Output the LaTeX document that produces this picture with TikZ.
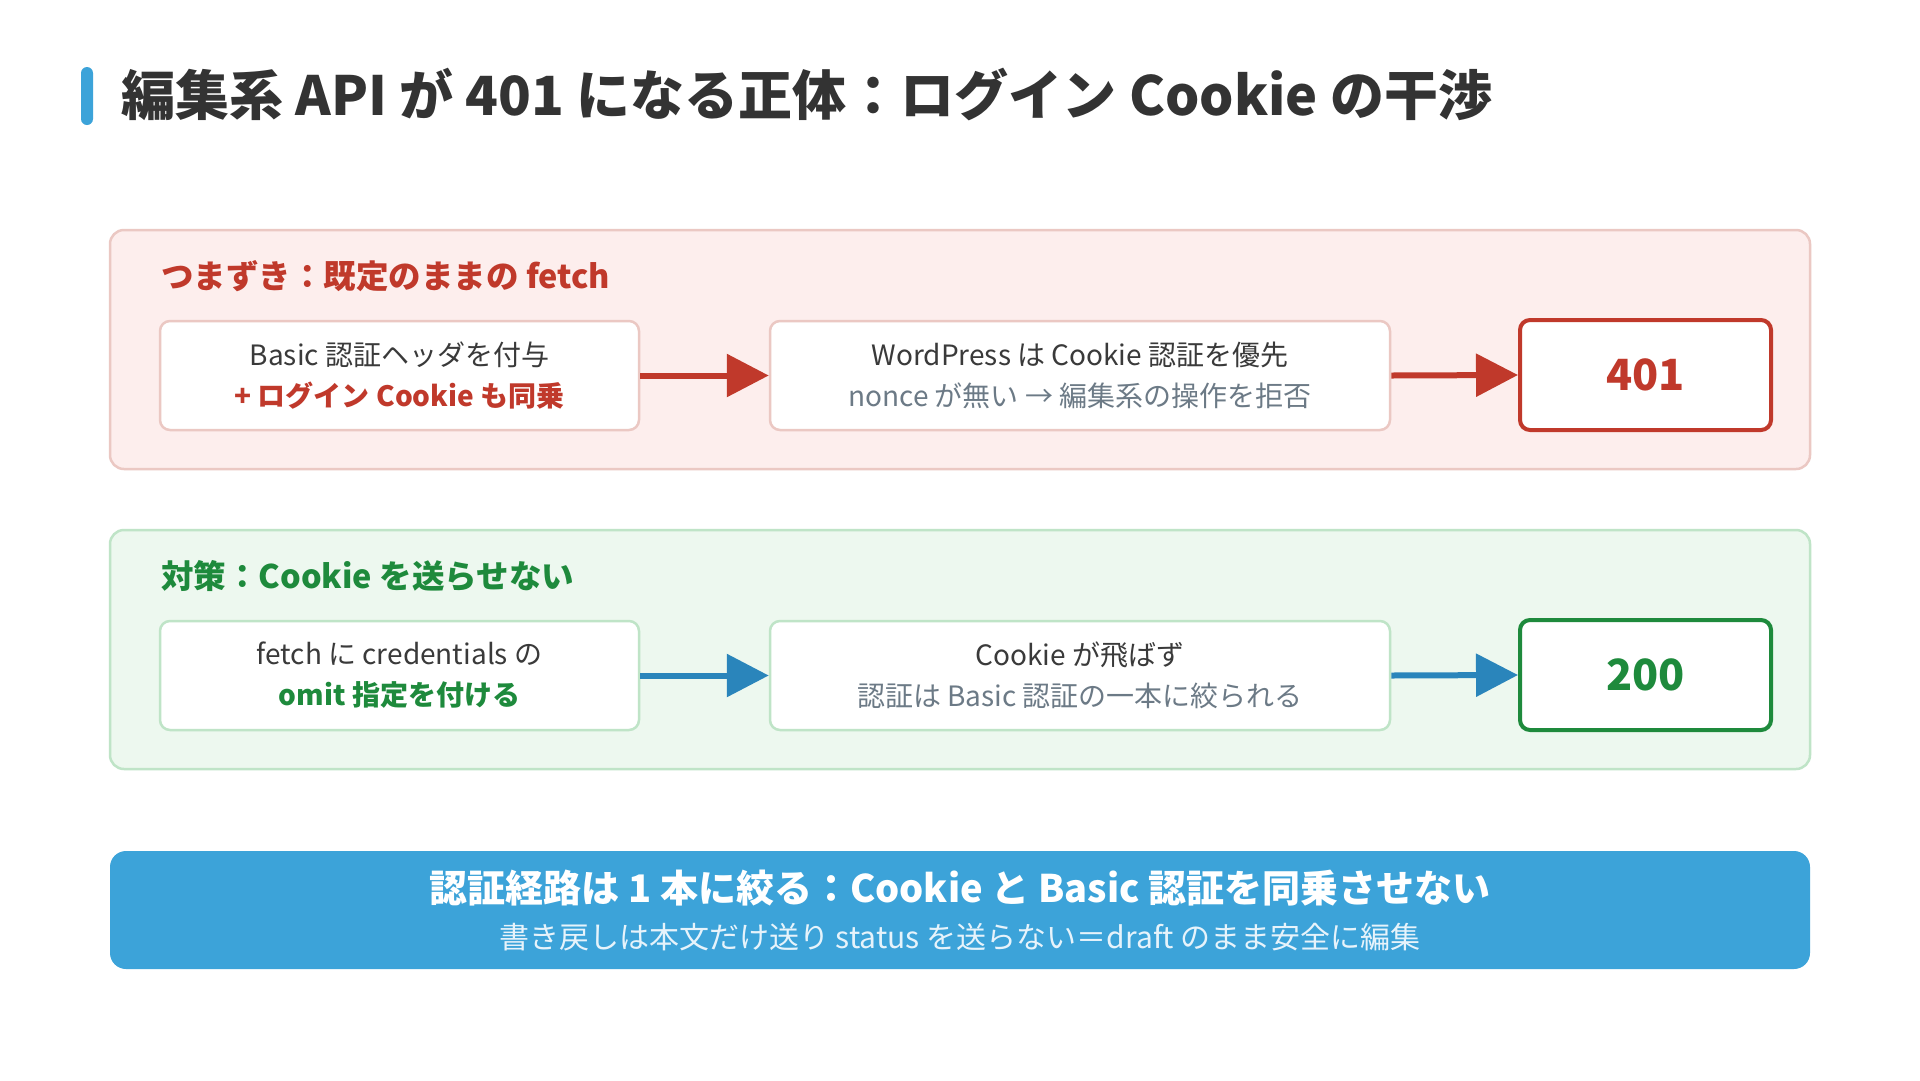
\documentclass[tikz,border=0pt]{standalone}
\usepackage{fontspec}
\setmainfont{Noto Sans CJK JP}
\usetikzlibrary{arrows.meta}
\definecolor{titlec}{HTML}{333333}
\definecolor{barc}{HTML}{3CA3D9}
\definecolor{redc}{HTML}{C0392B}
\definecolor{redbg}{HTML}{FDEEED}
\definecolor{redbd}{HTML}{EBC8C3}
\definecolor{greenc}{HTML}{1E8A3C}
\definecolor{greenbg}{HTML}{EDF8EF}
\definecolor{greenbd}{HTML}{BFE4C7}
\definecolor{bluearr}{HTML}{2A85BB}
\definecolor{bodyc}{HTML}{3A3A3A}
\definecolor{subc}{HTML}{6C7A86}
\definecolor{bansub}{HTML}{E6F3FB}
\tikzset{
  panel/.style={line width=2.5, rounded corners=14, minimum width=1700, minimum height=239, inner sep=0},
  stepbox/.style={fill=white, line width=2.5, rounded corners=10, minimum height=109, inner sep=0, align=center, font=\fontsize{28}{41}\selectfont, text=bodyc},
  resbox/.style={fill=white, line width=4, rounded corners=10, minimum width=251, minimum height=110, inner sep=0, font=\fontsize{43}{50}\selectfont\bfseries},
  plabel/.style={anchor=west, inner sep=0, font=\fontsize{32.5}{38}\selectfont\bfseries},
  arr/.style={line width=6, -{Triangle[length=42pt,width=42pt]}},
}
\begin{document}
\begin{tikzpicture}[x=1pt,y=-1pt]
\useasboundingbox[fill=white] (0,0) rectangle (1920,1080);
% title
\fill[barc, rounded corners=6] (81,67) rectangle (93,125);
\node[anchor=west, inner sep=0, text=titlec, font=\fontsize{54}{60}\selectfont\bfseries] (title) at (121,94) {編集系 API が 401 になる正体：ログイン Cookie の干渉};
% red panel
\node[panel, draw=redbd, fill=redbg] (pr) at (960,349.5) {};
\node[plabel, text=redc] (lr) at (161,276) {つまずき：既定のままの fetch};
\node[stepbox, draw=redbd, minimum width=479] (r1) at (399.5,375.5) {Basic 認証ヘッダを付与\\{\color{redc}\bfseries + ログイン Cookie も同乗}};
\node[stepbox, draw=redbd, minimum width=620] (r2) at (1080,375.5) {WordPress は Cookie 認証を優先\\{\color{subc}nonce が無い → 編集系の操作を拒否}};
\node[resbox, draw=redc, text=redc] (r3) at (1645.5,375) {401};
\draw[arr, redc] (r1.east) -- (r2.west);
\draw[arr, redc] (r2.east) -- (r3.west);
% green panel
\node[panel, draw=greenbd, fill=greenbg] (pg) at (960,649.5) {};
\node[plabel, text=greenc] (lg) at (161,576) {対策：Cookie を送らせない};
\node[stepbox, draw=greenbd, minimum width=479] (g1) at (399.5,675.5) {fetch に credentials の\\{\color{greenc}\bfseries omit 指定を付ける}};
\node[stepbox, draw=greenbd, minimum width=620] (g2) at (1080,675.5) {Cookie が飛ばず\\{\color{subc}認証は Basic 認証の一本に絞られる}};
\node[resbox, draw=greenc, text=greenc] (g3) at (1645.5,675) {200};
\draw[arr, bluearr] (g1.east) -- (g2.west);
\draw[arr, bluearr] (g2.east) -- (g3.west);
% banner
\node[fill=barc, rounded corners=16, minimum width=1700, minimum height=118, inner sep=0] (ban) at (960,910) {};
\node[text=white, inner sep=0, font=\fontsize{38}{44}\selectfont\bfseries] (b1) at (960,888) {認証経路は 1 本に絞る：Cookie と Basic 認証を同乗させない};
\node[text=bansub, inner sep=0, font=\fontsize{30}{36}\selectfont] (b2) at (960,937) {書き戻しは本文だけ送り status を送らない＝draft のまま安全に編集};
\end{tikzpicture}
\end{document}
